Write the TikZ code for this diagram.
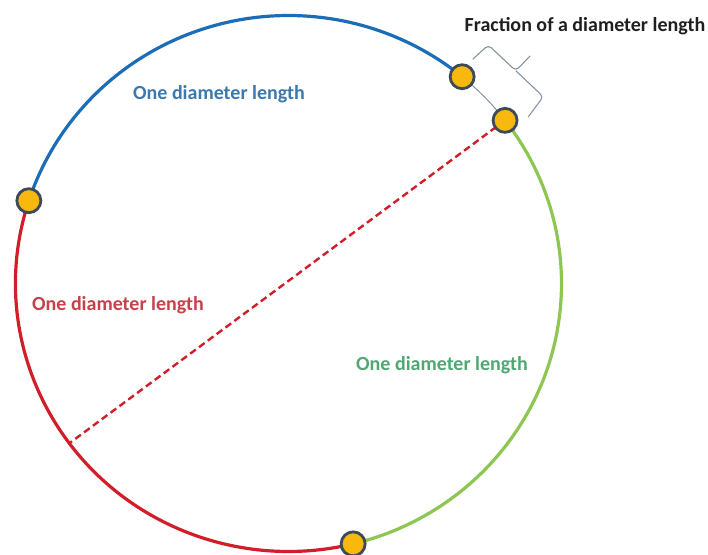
\documentclass[tikz,border=0pt]{standalone}
\usepackage{fontspec}
\usetikzlibrary{calc}
\setmainfont{Carlito}
\definecolor{arcblue}{HTML}{1B6DB8}
\definecolor{arcred}{HTML}{D11F2A}
\definecolor{arcgreen}{HTML}{8DC653}
\definecolor{txtblue}{HTML}{3A78B0}
\definecolor{txtred}{HTML}{C7414B}
\definecolor{txtgreen}{HTML}{4FA872}
\definecolor{dotfill}{HTML}{F8B80E}
\definecolor{dotline}{HTML}{3C4A5C}
\definecolor{bracegray}{HTML}{8593A1}
\tikzset{
  dotnode/.style={circle,draw=dotline,line width=2.8pt,fill=dotfill,minimum size=24pt,inner sep=0pt},
  arcline/.style={line width=3.2pt},
  lbl/.style={font=\bfseries\fontsize{20}{24}\selectfont,anchor=base,inner sep=0pt},
  bracestyle/.style={draw=bracegray,line width=1.1pt,rounded corners=4pt}
}
\begin{document}
\begin{tikzpicture}[x=1pt,y=1pt]
\useasboundingbox (0,0) rectangle (708,554);
\coordinate (c) at (288.5,270.5);
\def\rx{273}\def\ry{268}
\coordinate (p1) at ($(c)+(50.5:\rx pt and \ry pt)$);
\coordinate (p2) at ($(c)+(37.5:\rx pt and \ry pt)$);
\coordinate (p3) at ($(c)+(162:\rx pt and \ry pt)$);
\coordinate (p4) at ($(c)+(283.7:\rx pt and \ry pt)$);
\coordinate (q) at ($(c)+(216.6:\rx pt and \ry pt)$);
% arcs
\draw[draw=bracegray,line width=1pt] (p2) arc[start angle=37.5,end angle=50.5,x radius=\rx,y radius=\ry];
\draw[arcline,arcblue] (p1) arc[start angle=50.5,end angle=162,x radius=\rx,y radius=\ry];
\draw[arcline,arcred] (p3) arc[start angle=162,end angle=283.7,x radius=\rx,y radius=\ry];
\draw[arcline,arcgreen] (p4) arc[start angle=283.7,end angle=397.5,x radius=\rx,y radius=\ry];
% diameter
\draw[arcred,line width=2.4pt,dash pattern=on 7pt off 4pt] (p2) -- (q);
% dots
\node[dotnode] (d1) at (p1) {};
\node[dotnode] (d2) at (p2) {};
\node[dotnode] (d3) at (p3) {};
\node[dotnode] (d4) at (p4) {};
% brace
\coordinate (e1) at (472.7,494.7);
\coordinate (k1) at (488.3,509);
\coordinate (m) at (515.8,483.2);
\coordinate (tip) at (530,498);
\coordinate (k2) at (543.3,457.3);
\coordinate (e2) at (528.3,437.3);
\draw[bracestyle] (e1) -- (k1) -- (m) -- (tip);
\draw[bracestyle] (m) -- (k2) -- (e2);
% labels
\node[lbl,text=black!88] (tfrac) at (585,522.3) {Fraction of a diameter length};
\node[lbl,text=txtblue] (tblue) at (219,454.7) {One diameter length};
\node[lbl,text=txtred] (tred) at (118,243) {One diameter length};
\node[lbl,text=txtgreen] (tgreen) at (442,183.3) {One diameter length};
\end{tikzpicture}
\end{document}
